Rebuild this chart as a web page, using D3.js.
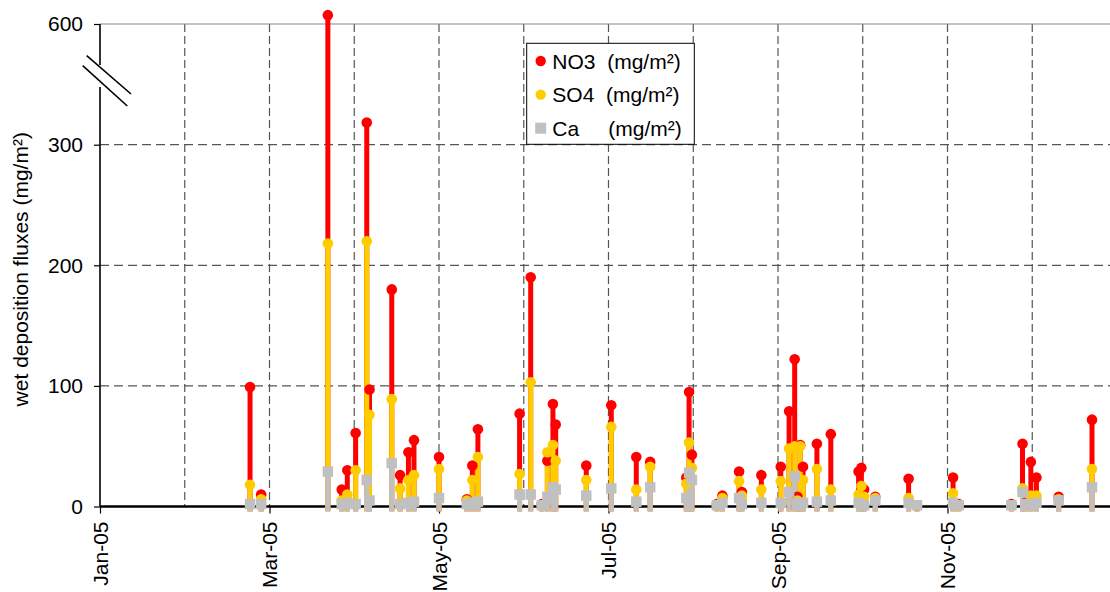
<!DOCTYPE html>
<html>
<head>
<meta charset="utf-8">
<script src="https://cdn.jsdelivr.net/npm/d3@7/dist/d3.min.js"></script>
<style>
  html, body { margin: 0; padding: 0; background: #fff; }
  svg { display: block; font-family: "Liberation Sans", Arial, sans-serif; }
</style>
</head>
<body>
<svg id="chart" width="1110" height="592"></svg>
<script>
// Sampling dates of rain events (2005)
const sampleDates = [
  "2005-02-24","2005-02-28","2005-03-24","2005-03-29","2005-03-31","2005-04-03",
  "2005-04-07","2005-04-08","2005-04-16","2005-04-19","2005-04-22","2005-04-24",
  "2005-05-03","2005-05-13","2005-05-15","2005-05-17","2005-06-01","2005-06-05",
  "2005-06-09","2005-06-11","2005-06-13","2005-06-14","2005-06-25","2005-07-04",
  "2005-07-13","2005-07-18","2005-07-31","2005-08-01","2005-08-02","2005-08-11",
  "2005-08-13","2005-08-19","2005-08-20","2005-08-27","2005-09-03","2005-09-06",
  "2005-09-08","2005-09-09","2005-09-10","2005-09-11","2005-09-16","2005-09-21",
  "2005-10-01","2005-10-02","2005-10-03","2005-10-07","2005-10-19","2005-10-22",
  "2005-11-04","2005-11-06","2005-11-25","2005-11-29","2005-11-30","2005-12-02",
  "2005-12-04","2005-12-12","2005-12-24"
];
// Wet deposition fluxes, mg/m²
const no3 = [
  99, 10, 622, 14, 30, 61,
  355, 97, 180, 26, 45, 55,
  41, 6, 34, 64, 77, 190,
  2, 38, 85, 68, 34, 84,
  41, 37, 24, 95, 43, 2,
  9, 29, 12, 26, 33, 79,
  122, 8, 51, 33, 52, 60,
  29, 32, 14, 8, 23, 1,
  24, 2, 2, 52, 3, 37,
  24, 8, 72
];
const so4 = [
  18, 6, 218, 5, 10, 30,
  220, 76, 89, 15, 22, 26,
  31, 5, 22, 41, 27, 103,
  1, 45, 51, 38, 22, 66,
  14, 33, 19, 53, 32, 1,
  7, 21, 9, 14, 21, 48,
  50, 5, 50, 22, 31, 14,
  10, 17, 8, 7, 7, 1,
  11, 1, 1, 15, 2, 9,
  9, 6, 31
];
const ca = [
  2, 2, 29, 2, 3, 2,
  22, 5, 36, 2, 3, 4,
  7, 2, 3, 4, 10, 10,
  1, 8, 16, 14, 9, 15,
  4, 16, 7, 28, 22, 1,
  3, 7, 2, 3, 3, 12,
  25, 3, 3, 3, 4, 5,
  3, 1, 1, 5, 3, 1,
  3, 1, 1, 12, 2, 2,
  3, 5, 16
];

const yTickValues = [0, 100, 200, 300, 600];
const xTickLabels = ["Jan-05", "Mar-05", "May-05", "Jul-05", "Sep-05", "Nov-05"];
const seriesNames = ["NO3  (mg/m²)", "SO4  (mg/m²)", "Ca     (mg/m²)"];
const yTitle = "wet deposition fluxes (mg/m²)";

const svg = d3.select("#chart");
const DAY = 864e5;
const parse = d3.utcParse("%Y-%m-%d");
const start = new Date(Date.UTC(2005, 0, 1));
const end = new Date(Date.UTC(2006, 0, 2));

// Date axis: gridlines every 30.5 days, labels every 61 days
const x = d3.scaleUtc().domain([start, end]).range([100, 1117]);
// Broken value axis: 0–300 in full, 300–600 compressed
const y = d3.scaleLinear().domain([0, 300, 600]).range([506.5, 144.7, 24]);

const gridDates = d3.range(1, 12).map(k => new Date(start.getTime() + k * 30.5 * DAY));
const majorDates = d3.range(0, 6).map(k => new Date(start.getTime() + k * 61 * DAY));

const plotRight = 1117;
const gGrid = svg.append("g");

// vertical gridlines
gGrid.selectAll("line.v").data(gridDates).join("line")
  .attr("x1", d => x(d)).attr("x2", d => x(d))
  .attr("y1", y(600)).attr("y2", y(0))
  .attr("stroke", "#555").attr("stroke-width", 1.2)
  .attr("stroke-dasharray", "8,4");

// horizontal gridlines
gGrid.selectAll("line.h").data(yTickValues.filter(v => v > 0)).join("line")
  .attr("x1", x(start)).attr("x2", plotRight)
  .attr("y1", d => y(d)).attr("y2", d => y(d))
  .attr("stroke", d => d === 600 ? "#888" : "#555")
  .attr("stroke-width", 1.2)
  .attr("stroke-dasharray", d => d === 600 ? null : "9,5");

// y axis with ticks and labels
const yAxis = svg.append("g").attr("transform", `translate(${x(start)},0)`)
  .call(d3.axisLeft(y).tickValues(yTickValues).tickSize(6).tickPadding(11).tickFormat(d3.format("d")));
yAxis.select(".domain").remove();
yAxis.selectAll(".tick line").attr("stroke", "#000").attr("stroke-width", 1.2);
yAxis.selectAll(".tick text")
  .attr("font-family", "Liberation Sans, Arial, sans-serif")
  .attr("font-size", 21).attr("fill", "#000");

// axis line drawn in two parts around the break
const breakTop = 65, breakBottom = 87;
const axisLine = svg.append("g").attr("stroke", "#000").attr("stroke-width", 1.6);
axisLine.append("line").attr("x1", x(start)).attr("x2", x(start)).attr("y1", y(600)).attr("y2", breakTop);
axisLine.append("line").attr("x1", x(start)).attr("x2", x(start)).attr("y1", breakBottom).attr("y2", y(0));
// break marks
axisLine.append("line").attr("x1", 86.7).attr("y1", 55.7).attr("x2", 131).attr("y2", 94);
axisLine.append("line").attr("x1", 82.7).attr("y1", 65.7).attr("x2", 127.3).attr("y2", 106);

// x axis
const xAxis = svg.append("g").attr("transform", `translate(0,${y(0)})`)
  .call(d3.axisBottom(x).tickValues(majorDates).tickSize(7).tickFormat((d, i) => xTickLabels[i]));
xAxis.select(".domain").remove();
xAxis.selectAll(".tick line").attr("stroke", "#000").attr("stroke-width", 1.2);
xAxis.selectAll(".tick text")
  .attr("font-family", "Liberation Sans, Arial, sans-serif")
  .attr("font-size", 21).attr("fill", "#000")
  .attr("text-anchor", "end")
  .attr("transform", "translate(0,15) rotate(-90)")
  .attr("x", 0).attr("y", 0).attr("dy", "0.35em");
svg.append("line")
  .attr("x1", x(start)).attr("x2", plotRight)
  .attr("y1", y(0)).attr("y2", y(0))
  .attr("stroke", "#000").attr("stroke-width", 2.5);

// y axis title
svg.append("text")
  .attr("transform", `translate(28,${(y(0) + y(600)) / 2 + 4}) rotate(-90)`)
  .attr("text-anchor", "middle")
  .attr("font-size", 21)
  .attr("fill", "#000")
  .text(yTitle);

// series
const series = [
  { name: seriesNames[0], values: no3, color: "#FF0000", shape: "circle" },
  { name: seriesNames[1], values: so4, color: "#FFCC00", shape: "circle" },
  { name: seriesNames[2], values: ca,  color: "#C0C0C0", shape: "square" }
];
const dates = sampleDates.map(parse);
const stickFloor = -4;

const gSticks = svg.append("g");
series.forEach(s => {
  gSticks.append("g").selectAll("line").data(s.values).join("line")
    .attr("x1", (v, i) => x(dates[i])).attr("x2", (v, i) => x(dates[i]))
    .attr("y1", y(stickFloor)).attr("y2", v => y(v))
    .attr("stroke", s.color).attr("stroke-width", 5);
});

const gMarks = svg.append("g");
const R = 5.3, SQ = 10.5;
series.forEach(s => {
  const g = gMarks.append("g");
  if (s.shape === "circle") {
    g.selectAll("circle").data(s.values).join("circle")
      .attr("cx", (v, i) => x(dates[i])).attr("cy", v => y(v))
      .attr("r", R).attr("fill", s.color);
  } else {
    g.selectAll("rect").data(s.values).join("rect")
      .attr("x", (v, i) => x(dates[i]) - SQ / 2).attr("y", v => y(v) - SQ / 2)
      .attr("width", SQ).attr("height", SQ).attr("fill", s.color);
  }
});

// legend
const legend = svg.append("g").attr("transform", "translate(526.7,43.3)");
legend.append("rect").attr("width", 167.6).attr("height", 101)
  .attr("fill", "#fff").attr("stroke", "#000").attr("stroke-width", 1);
series.forEach((s, i) => {
  const cy = 17.7 + i * 33.6;
  if (s.shape === "circle") {
    legend.append("circle").attr("cx", 14).attr("cy", cy).attr("r", 5.2).attr("fill", s.color);
  } else {
    legend.append("rect").attr("x", 14 - 5.5).attr("y", cy - 5.5).attr("width", 11).attr("height", 11).attr("fill", s.color);
  }
  legend.append("text")
    .attr("x", 25.6).attr("y", cy).attr("dy", "0.36em")
    .attr("font-size", 21).attr("fill", "#000")
    .style("white-space", "pre")
    .text(s.name);
});
</script>
</body>
</html>
